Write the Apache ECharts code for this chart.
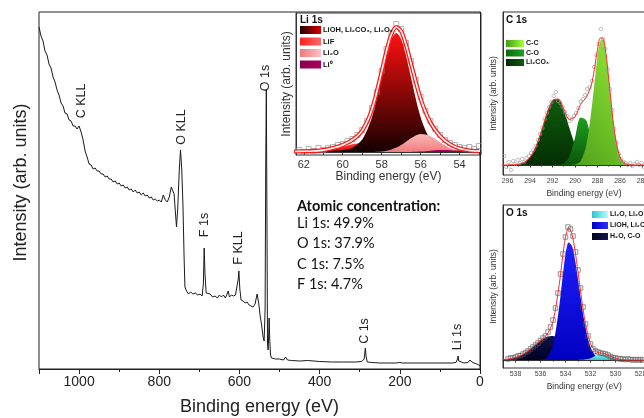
<!DOCTYPE html>
<html><head><meta charset="utf-8">
<script src="https://cdn.jsdelivr.net/npm/echarts@6/dist/echarts.min.js"></script>
<style>html,body{margin:0;padding:0;background:#fff}#c{width:644px;height:418px}</style>
</head><body><div id="c"></div>
<script>
// ---------- survey spectrum (binding energy eV, intensity arb.) ----------
const survey = [[1100,342],[1095,333],[1090,328],[1085,318],[1080,314],[1075,305],[1070,301],[1065,292],[1060,287],[1055,279],[1050,274],[1045,266],[1040,263],[1035,256],[1030,255],[1025,249],[1020,248],[1015,243],[1010,243],[1005,240],[1000,243],[995,237],[990,229],[985,218],[980,212],[975,205],[970,204],[965,200],[960,201],[955,198],[950,198],[945,195],[940,195],[935,192],[930,193],[925,190],[920,190],[915,187],[910,188],[905,185],[900,186],[895,183],[890,184],[885,181],[880,182],[875,179],[870,180],[865,177],[860,179],[855,176],[850,177],[845,174],[840,176],[835,173],[830,174],[825,171],[820,172],[815,169],[810,170],[805,168],[800,169],[795,167],[790,174],[785,169],[780,167],[775,172],[770,182],[767,184],[763,175],[760,158],[757,142],[754,160],[750,200],[747,219],[744,200],[741,165],[738,110],[736,82],[732,78],[727,75],[722,77],[716,75],[710,76],[704,74],[698,75],[693,73],[690,85],[688,121],[686,95],[683,76],[679,74],[673,75],[667,72],[661,73],[655,71],[650,74],[645,72],[640,74],[635,71],[631,73],[628,78],[625,72],[620,74],[615,73],[610,74],[606,75],[603,90],[601.5,98],[599,80],[596,69],[591,68],[586,66],[581,67],[576,64],[571,63],[566,62],[561,65],[556,75],[552,66],[548,52],[545,45],[541,32],[538.5,28],[536,60],[534.5,200],[533,279],[531.5,160],[530,25],[528.5,19],[527,35],[526,51],[524.5,30],[522.5,14],[520,11],[510,10],[500,10],[490,9],[485,12],[480,9],[470,8.5],[450,8],[430,8.5],[400,7.5],[370,7],[340,7],[310,7],[295,7.5],[289,10],[286,21],[284,12],[281,7],[270,6.5],[250,6],[230,6],[210,6],[200,6.5],[197,7.5],[194,6],[170,6],[150,6],[130,6],[110,6],[90,6],[70,6],[60,6.5],[56,10],[54.5,13],[53,8],[50,6.5],[40,6],[30,6.5],[25,9],[23,10],[20,7],[15,6],[8,5],[3,4],[0,3]];
const surveyLabels = ['C KLL','O KLL','F 1s','F KLL','O 1s','C 1s','Li 1s'];
const concTitle = 'Atomic concentration:';
const concLines = ['Li 1s: 49.9%','O 1s: 37.9%','C 1s: 7.5%','F 1s: 4.7%'];

// ---------- Li 1s ----------
const liNames = ['LiOH, Li\u2082CO\u2083, Li\u2082O\u2082','LiF','Li\u2082O','Li\u2070'];
const liX    = [62.5,62,61.5,61,60.5,60,59.5,59,58.5,58,57.75,57.5,57.25,57,56.75,56.5,56,55.5,55,54.5,54,53.5,53];
const liMain = [0.5,0.65,0.8,1.0,1.4,2.0,4.3,12.4,34.8,74.9,96.4,112.8,119,112.8,96.4,74.9,34.8,12.4,4.3,2.0,1.4,1.0,0.8];
const liLiF  = [0,0.05,0.25,0.9,2.5,5.1,7.8,9,7.8,5.1,3.7,2.5,1.6,0.9,0.5,0.25,0.05,0,0,0,0,0,0];
const liLi2O = [0,0,0,0,0,0,0,0,0.1,0.6,1.3,2.5,4.4,7.1,10.3,13.7,17.9,15.9,9.7,4.0,1.1,0.2,0];
const liLi0  = [0,0,0,0,0,0,0,0,0,0,0,0,0,0,0,0.09,0.4,1.2,1.9,1.8,1.0,0.3,0.06];
const liEnv  = [0.5,0.7,1.05,1.9,3.9,7.1,12.1,21.4,42.7,80.6,101.4,117.8,125.0,120.8,107.2,88.9,53.2,29.5,15.9,7.8,3.5,1.5,0.9];
const liPts  = [[62.25,2],[62,0],[61.75,3],[61.5,1],[61.25,4],[61,2],[60.75,4],[60.5,5],[60.25,7],[60,8],[59.75,11],[59.5,13],[59.25,17],[59,22],[58.75,31],[58.5,44],[58.25,60],[58,81],[57.75,103],[57.5,119],[57.25,128],[57,123],[56.75,109],[56.5,91],[56.25,72],[56,55],[55.75,41],[55.5,31],[55.25,23],[55,17],[54.75,12],[54.5,9],[54.25,7],[54,5],[53.75,4],[53.5,5],[53.25,3],[53,6]];

// ---------- C 1s ----------
const cNames = ['C-C','C-O','Li\u2082CO\u2083'];
const cX      = [296.5,296,295.5,295,294.5,294,293.5,293,292.5,292,291.5,291,290.5,290,289.5,289,288.5,288,287.75,287.5,287.25,287,286.5,286,285.5,285,284.5,284,283,282];
const cLi2CO3 = [0,0.03,0.18,0.77,2.7,7.7,17.8,33.5,51.5,64.6,65.9,54.8,37.1,20.5,9.2,3.4,1.0,0.25,0.12,0.05,0.02,0,0,0,0,0,0,0,0,0];
const cCO     = [0,0,0,0,0,0,0,0,0,0,0.13,1.4,8.5,27.3,47.6,44.8,22.7,6.2,2.6,0.9,0.3,0.07,0,0,0,0,0,0,0,0];
const cCC     = [0,0,0,0,0,0,0,0,0,0,0,0,0.05,0.5,4.0,19.4,58.4,109,124.3,125.6,111.2,86,34.3,7.9,1.1,0.09,0,0,0,0];
const cEnv    = [0,0.03,0.2,0.8,2.7,7.7,17.8,33.5,51.5,64.6,66.0,56.2,45.6,48.3,60.8,67.6,82.1,115.5,127.0,126.5,111.5,86.1,34.3,7.9,1.1,0.1,0,0,0,0];
const cPts = [[296.3,9],[296.1,-2],[295.9,3],[295.7,-5],[295.5,4],[295.3,1],[295.1,5],[294.9,2],[294.7,6],[294.5,3],[294.3,7],[294.1,9],[293.9,12],[293.7,15],[293.5,19],[293.3,25],[293.1,31],[292.9,37],[292.7,46],[292.5,52],[292.3,58],[292.1,63],[291.9,69],[291.7,73],[291.5,64],[291.3,62],[291.1,58],[290.9,53],[290.7,49],[290.5,44],[290.3,46],[290.1,49],[289.9,52],[289.7,57],[289.5,63],[289.3,66],[289.1,70],[288.9,76],[288.7,78],[288.5,84],[288.3,98],[288.1,110],[287.9,121],[287.7,136],[287.5,126],[287.3,116],[287.1,96],[286.9,76],[286.7,55],[286.5,36],[286.3,22],[286.1,11],[285.9,6],[285.7,3],[285.5,2],[285.3,0],[285.1,2],[284.9,-1],[284.7,1],[284.5,3],[284.3,0],[284.1,2],[283.9,-2],[283.7,1]];

// ---------- O 1s ----------
const oNames = ['Li\u2082O, Li\u2082O\u2082','LiOH, Li\u2082CO\u2083','H\u2082O, C-O'];
const oX    = [539.5,539,538.5,538,537.5,537,536.5,536,535.5,535,534.5,534.25,534,533.75,533.5,533.25,533,532.5,532,531.5,531,530.5,530,529.5,529,528.5,528,527,526];
const oNavy = [0.13,0.39,1.05,2.5,5.0,9.0,14.1,19.3,23.0,23.9,21.8,19.7,17.3,14.7,12.0,9.5,7.3,3.8,1.8,0.7,0.25,0.08,0.02,0,0,0,0,0,0];
const oBlue = [0,0,0,0,0,0,0,0.17,2.2,14.7,53.7,81.3,105.6,117.6,114.4,101.0,81.0,39.0,12.8,2.9,0.4,0.05,0,0,0,0,0,0,0];
const oCyan = [0,0,0,0,0,0,0,0,0,0,0,0,0,0,0,0,0.04,0.4,1.75,4.4,6,4.4,1.75,0.4,0.04,0,0,0,0];
const oEnv  = [0.13,0.39,1.05,2.5,5.0,9.0,14.1,19.5,25.2,38.6,75.5,101.0,122.9,132.3,126.4,110.5,88.3,43.2,16.35,8.0,6.65,4.5,1.8,0.4,0.04,0,0,0,0];
const oPts = [[538.6,1],[538.4,2],[538.2,2],[538,3],[537.8,4],[537.6,4.5],[537.4,6],[537.2,7.5],[537,9],[536.8,11],[536.6,13],[536.4,15],[536.2,17],[536,19.5],[535.8,22],[535.6,24],[535.4,28],[535.2,33],[535,40],[534.8,52],[534.6,67],[534.4,86],[534.2,106],[534,123],[533.8,133],[533.6,131],[533.4,124],[533.2,108],[533,90],[532.8,72],[532.6,53],[532.4,36],[532.2,24],[532,16],[531.8,11],[531.6,9],[531.4,8],[531.2,7],[531,6.5],[530.8,6],[530.6,5],[530.4,3.5],[530.2,2.5],[530,2],[529.8,1.5],[529.6,1],[529.4,1],[529.2,0.5],[529,1],[528.8,0.5],[528.6,0],[528.4,0.5],[528.2,0],[528,0.5],[527.8,0]];

// ---------- chart ----------
const FF = "'Liberation Sans', Arial, sans-serif";
const INK = '#222';
const chart = echarts.init(document.getElementById('c'));
const pairs = (xs, ys) => xs.map((x, i) => [x, ys[i]]);
const vgrad = (a, b) => ({type:'linear', x:0, y:0, x2:0, y2:1, colorStops:[{offset:0,color:a},{offset:1,color:b}]});
const hgrad = (a, b) => ({type:'linear', x:0, y:0, x2:1, y2:0, colorStops:[{offset:0,color:a},{offset:1,color:b}]});
const dgrad = (a, b) => ({type:'linear', x:0, y:1, x2:1, y2:0, colorStops:[{offset:0,color:a},{offset:1,color:b}]});

function comp(name, gi, xs, ys, fill, z) {
  return {name, type:'line', xAxisIndex:gi, yAxisIndex:gi, data:pairs(xs, ys), smooth:0.3,
    showSymbol:false, silent:true, lineStyle:{width:0}, areaStyle:{color:fill, opacity:1}, z};
}
function envelope(gi, xs, ys, color, width, z) {
  return {type:'line', xAxisIndex:gi, yAxisIndex:gi, data:pairs(xs, ys), smooth:0.3, showSymbol:false,
    silent:true, lineStyle:{color, width}, z};
}
function points(gi, pts, symbol, size, color, z) {
  return {type:'scatter', xAxisIndex:gi, yAxisIndex:gi, data:pts, symbol, symbolSize:size, silent:true,
    itemStyle:{color:'rgba(0,0,0,0)', borderColor:color, borderWidth:0.8}, z};
}
function panelX(gi, min, max, opts) {
  return Object.assign({gridIndex:gi, type:'value', inverse:true, min, max,
    axisLine:{lineStyle:{color:'#333', width:1}}, splitLine:{show:false},
    axisTick:{length:2.5, lineStyle:{color:'#333'}},
    axisLabel:{fontSize:7, color:'#444', margin:3, fontFamily:FF, showMaxLabel:false},
    name:'Binding energy (eV)', nameLocation:'middle', nameGap:14,
    nameTextStyle:{fontSize:8.5, color:'#333', fontFamily:FF}}, opts);
}
function panelY(gi, min, max, opts) {
  return Object.assign({gridIndex:gi, type:'value', min, max,
    axisLine:{show:true, lineStyle:{color:'#333', width:1}}, axisTick:{show:false}, axisLabel:{show:false},
    splitLine:{show:false}, name:'Intensity (arb. units)', nameLocation:'middle', nameGap:5,
    nameTextStyle:{fontSize:8.5, color:'#333', fontFamily:FF}}, opts);
}

const liFills = [vgrad('#ff1010','#150000'), vgrad('#ff3b3b','#e80000'), vgrad('#f9b8b8','#f27c7c'), vgrad('#a3005c','#8a004c')];
const liSwatch = [hgrad('#250000','#d80000'), hgrad('#ff2020','#ff6a6a'), hgrad('#f07878','#fcc4c4'), hgrad('#8a004c','#a8005e')];
const cFills = [dgrad('#2f7d10','#a8ff3c'), vgrad('#1ea01e','#0a560a'), vgrad('#0f5c0f','#032e03')];
const cSwatch = [hgrad('#3e9e15','#a8ff3c'), hgrad('#0a6a0a','#1ea01e'), hgrad('#022a02','#0f5c0f')];
const oFills = [vgrad('#8ff8f8','#2fc4cc'), vgrad('#2020ff','#0000c0'), vgrad('#10104a','#000026')];
const oSwatch = [hgrad('#2fc4cc','#b0ffff'), hgrad('#0000c0','#3030ff'), hgrad('#000026','#16164e')];

function legend(names, swatches, left, top, w, h, fs, gap) {
  return {show:true, orient:'vertical', left, top, itemWidth:w, itemHeight:h, itemGap:gap, icon:'rect',
    selectedMode:false, padding:0, z:20,
    data:names.map((n, i) => ({name:n, itemStyle:{color:swatches[i], borderWidth:0}})),
    textStyle:{fontSize:fs, fontWeight:'bold', color:'#111', fontFamily:FF, padding:[0,0,0,-3]}};
}

const rotLabelPos = [[82,101],[182,127],[205,225],[239,248],[266,78],[365,331],[458,337]];
const graphics = surveyLabels.map((t, i) => ({type:'text', x:rotLabelPos[i][0], y:rotLabelPos[i][1], rotation:Math.PI/2, z:50,
  style:{text:t, fontSize:12.5, fill:INK, fontFamily:FF, align:'center', verticalAlign:'middle'}}));
graphics.push({type:'text', x:300, y:20, z:50, style:{text:'Li 1s', fontSize:10, fontWeight:'bold', fill:'#111', fontFamily:FF, verticalAlign:'middle'}});
graphics.push({type:'text', x:506, y:20, z:50, style:{text:'C 1s', fontSize:10, fontWeight:'bold', fill:'#111', fontFamily:FF, verticalAlign:'middle'}});
graphics.push({type:'text', x:506, y:213, z:50, style:{text:'O 1s', fontSize:10, fontWeight:'bold', fill:'#111', fontFamily:FF, verticalAlign:'middle'}});
graphics.push({type:'text', x:297, y:206, z:50, style:{text:concTitle, fontSize:14.5, fontWeight:'bold', fill:'#111', fontFamily:"Lato, 'Open Sans', sans-serif", verticalAlign:'middle'}});
const concY = [223.5,243.5,264,284];
concLines.forEach((t, i) => graphics.push({type:'text', x:297, y:concY[i], z:50,
  style:{text:t, fontSize:14.5, fill:'#111', fontFamily:"Lato, 'Open Sans', sans-serif", verticalAlign:'middle'}}));

const option = {
  animation:false,
  backgroundColor:'#fff',
  grid:[
    {left:39, top:12, width:441, height:357, show:true, borderColor:INK, borderWidth:1, backgroundColor:'transparent', outerBoundsMode:'none'},
    {left:296, top:13, width:185, height:142, show:true, borderColor:'#333', borderWidth:1, backgroundColor:'#fff', outerBoundsMode:'none'},
    {left:503, top:12, width:162, height:163, show:true, borderColor:'#333', borderWidth:1, backgroundColor:'#fff', outerBoundsMode:'none'},
    {left:503, top:205, width:162.5, height:163, show:true, borderColor:'#333', borderWidth:1, backgroundColor:'#fff', outerBoundsMode:'none'}
  ],
  xAxis:[
    {gridIndex:0, type:'value', inverse:true, min:0, max:1100, interval:200,
     axisLine:{lineStyle:{color:INK, width:1}}, splitLine:{show:false},
     axisTick:{length:5, lineStyle:{color:INK}},
     minorTick:{show:true, splitNumber:2, length:3, lineStyle:{color:INK}},
     axisLabel:{fontSize:14, color:INK, margin:6, fontFamily:FF, showMaxLabel:false, formatter:(v) => String(v)},
     name:'Binding energy (eV)', nameLocation:'middle', nameGap:29,
     nameTextStyle:{fontSize:18, color:INK, fontFamily:FF}},
    panelX(1, 52.9, 62.4, {axisLabel:{customValues:[54,56,58,60,62], fontSize:11, color:'#333', margin:4, fontFamily:FF},
      axisTick:{customValues:[53,54,55,56,57,58,59,60,61,62], length:3, lineStyle:{color:'#333'}},
      nameGap:16, nameTextStyle:{fontSize:12, color:'#333', fontFamily:FF}}),
    panelX(2, 282, 296.4, {interval:2, minorTick:{show:true, splitNumber:2, length:1.5, lineStyle:{color:'#333'}}}),
    panelX(3, 526, 539, {interval:2, minorTick:{show:true, splitNumber:2, length:1.5, lineStyle:{color:'#333'}}})
  ],
  yAxis:[
    {gridIndex:0, type:'value', min:0, max:357, axisLine:{show:true, lineStyle:{color:INK, width:1}},
     axisTick:{show:false}, axisLabel:{show:false}, splitLine:{show:false},
     name:'Intensity (arb. units)', nameLocation:'middle', nameGap:9,
     nameTextStyle:{fontSize:18, color:INK, fontFamily:FF, padding:[0,0,0,16]}},
    panelY(1, -3, 139, {nameGap:3, nameTextStyle:{fontSize:12, color:'#333', fontFamily:FF}}),
    panelY(2, -10, 153),
    panelY(3, -8, 155)
  ],
  legend:[
    legend(liNames, liSwatch, 300, 26, 21, 8, 7.5, 3.5),
    legend(cNames, cSwatch, 506, 40, 18, 7, 7, 2.5),
    legend(oNames, oSwatch, 592, 211, 16, 7, 7, 4)
  ],
  series:[
    {type:'line', xAxisIndex:0, yAxisIndex:0, data:survey, showSymbol:false, silent:true,
     lineStyle:{color:'#1a1a1a', width:1}, z:2},
    comp(liNames[1], 1, liX, liLiF, liFills[1], 3),
    comp(liNames[0], 1, liX, liMain, liFills[0], 4),
    comp(liNames[2], 1, liX, liLi2O, liFills[2], 5),
    comp(liNames[3], 1, liX, liLi0, liFills[3], 6),
    points(1, liPts, 'rect', 5, '#8a8a8a', 7),
    envelope(1, liX, liEnv, '#ff1a1a', 4.2, 8),
    envelope(1, liX, liEnv, '#ffffff', 1.6, 9),
    comp(cNames[2], 2, cX, cLi2CO3, cFills[2], 3),
    comp(cNames[1], 2, cX, cCO, cFills[1], 4),
    comp(cNames[0], 2, cX, cCC, cFills[0], 5),
    points(2, cPts, 'circle', 3.5, '#9a9a9a', 6),
    envelope(2, cX, cEnv, '#ff2a2a', 1, 7),
    comp(oNames[2], 3, oX, oNavy, oFills[2], 3),
    comp(oNames[1], 3, oX, oBlue, oFills[1], 4),
    comp(oNames[0], 3, oX, oCyan, oFills[0], 5),
    points(3, oPts, 'rect', 4.5, '#555', 6),
    envelope(3, oX, oEnv, '#ff2a2a', 1, 7)
  ],
  graphic:graphics
};
chart.setOption(option);
</script></body></html>
